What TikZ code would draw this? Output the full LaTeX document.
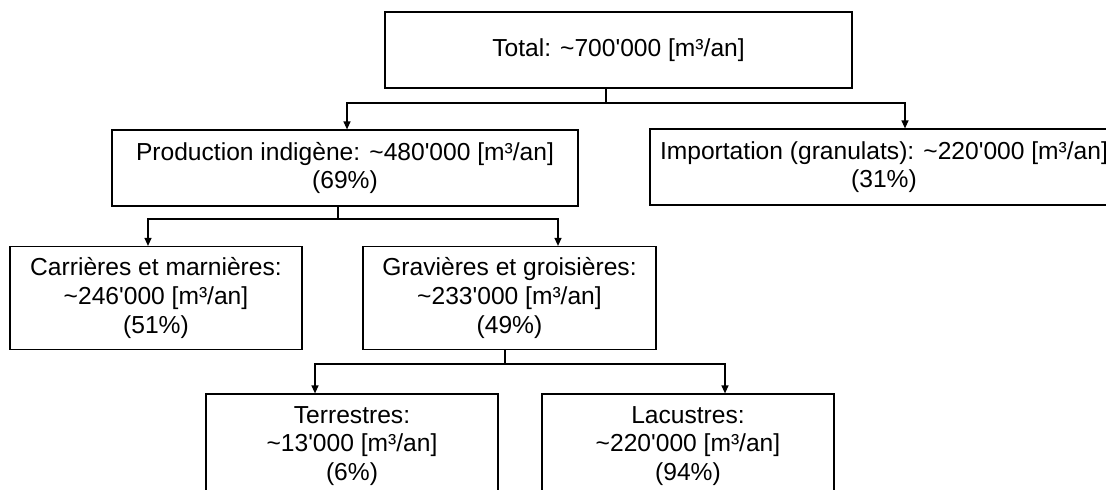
\documentclass[tikz,border=0pt]{standalone}
\usepackage{fontspec}
\setmainfont{Liberation Sans}
\newfontfamily\lsf{Liberation Sans}
\usetikzlibrary{arrows.meta}
\begin{document}
\begin{tikzpicture}[x=1pt,y=-1pt,
  box/.style={draw=black,line width=1.2pt,fill=white,inner sep=0pt,align=center,
    font=\lsf\fontsize{24.6}{28.7}\selectfont},
  conn/.style={draw=black,line width=1.2pt},
  arr/.style={conn,-{Triangle[length=8pt,width=7pt]}}]
\clip (0,0) rectangle (1106,490);
\fill[white] (0,0) rectangle (1106,490);
\node[box,minimum width=467pt,minimum height=76pt] (top) at (618.5,50) {Total: \textasciitilde700'000 [m³/an]};
\node[box,minimum width=466pt,minimum height=76pt] (prod) at (345,168) {Production indigène: \textasciitilde480'000 [m³/an]\\(69\%)};
\node[box,minimum width=468pt,minimum height=76pt] (imp) at (884,167) {Importation (granulats): \textasciitilde220'000 [m³/an]\\(31\%)};
\node[box,minimum width=292pt,minimum height=103pt] (carr) at (156,298) {Carrières et marnières:\\\textasciitilde246'000 [m³/an]\\(51\%)};
\node[box,minimum width=293pt,minimum height=103pt] (grav) at (509.5,298) {Gravières et groisières:\\\textasciitilde233'000 [m³/an]\\(49\%)};
\node[box,minimum width=292pt,minimum height=104pt] (terr) at (352,446) {Terrestres:\\\textasciitilde13'000 [m³/an]\\(6\%)};
\node[box,minimum width=292pt,minimum height=104pt] (lac) at (688,446) {Lacustres:\\\textasciitilde220'000 [m³/an]\\(94\%)};
% junctions
\coordinate (j1) at (606,103);
\coordinate (x1) at (347,0);
\coordinate (x2) at (905,0);
\coordinate (j2) at (338,219);
\coordinate (x3) at (148,0);
\coordinate (x4) at (558,0);
\coordinate (j3) at (505,364);
\coordinate (x5) at (315,0);
\coordinate (x6) at (725,0);
\draw[conn] (top.south -| j1) -- (j1);
\draw[arr] (j1) -| (prod.north -| x1);
\draw[arr] (j1) -| (imp.north -| x2);
\draw[conn] (prod.south -| j2) -- (j2);
\draw[arr] (j2) -| (carr.north -| x3);
\draw[arr] (j2) -| (grav.north -| x4);
\draw[conn] (grav.south -| j3) -- (j3);
\draw[arr] (j3) -| (terr.north -| x5);
\draw[arr] (j3) -| (lac.north -| x6);
\end{tikzpicture}
\end{document}
